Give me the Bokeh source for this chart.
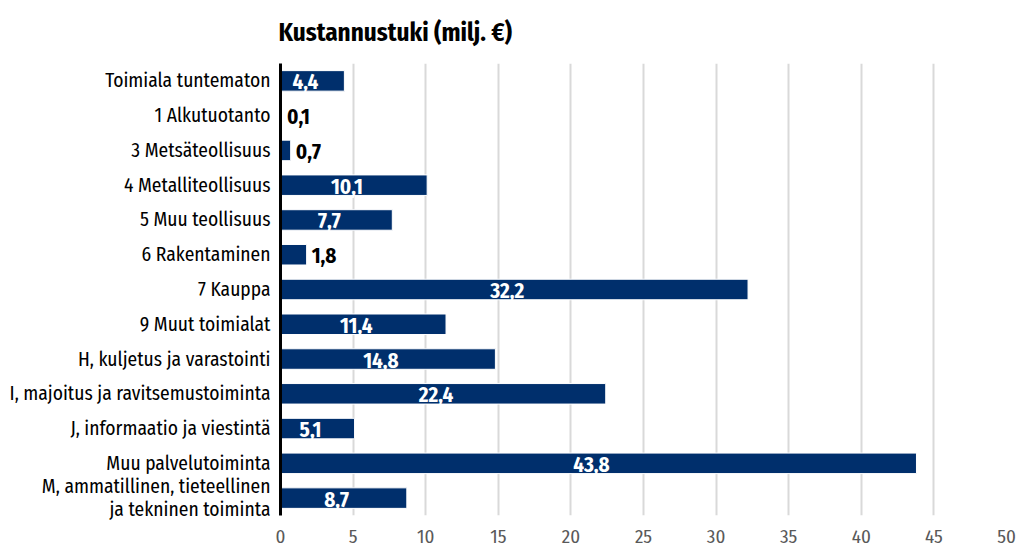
from bokeh.plotting import figure
from bokeh.models import FactorRange, Range1d, FixedTicker, ColumnDataSource
from bokeh.embed import file_html
from bokeh.resources import INLINE
from bokeh.core.properties import value

categories = [
    "Toimiala tuntematon",
    "1 Alkutuotanto",
    "3 Metsäteollisuus",
    "4 Metalliteollisuus",
    "5 Muu teollisuus",
    "6 Rakentaminen",
    "7 Kauppa",
    "9 Muut toimialat",
    "H, kuljetus ja varastointi",
    "I, majoitus ja ravitsemustoiminta",
    "J, informaatio ja viestintä",
    "Muu palvelutoiminta",
    "M, ammatillinen, tieteellinen\nja tekninen toiminta",
]
values = [4.4, 0.1, 0.7, 10.1, 7.7, 1.8, 32.2, 11.4, 14.8, 22.4, 5.1, 43.8, 8.7]
x_ticks = [0, 5, 10, 15, 20, 25, 30, 35, 40, 45, 50]
title_text = "Kustannustuki (milj. €)"

FONT = "Fira Sans Condensed"
BAR = "#002f6c"

labels = [f"{v:.1f}".replace(".", ",") for v in values]
inside = [v >= 3 for v in values]

src = ColumnDataSource(dict(cat=categories, val=values, lab=labels))
src_in = ColumnDataSource(dict(
    cat=[c for c, i in zip(categories, inside) if i],
    x=[v / 2 for v, i in zip(values, inside) if i],
    lab=[l for l, i in zip(labels, inside) if i],
))
src_out = ColumnDataSource(dict(
    cat=[c for c, i in zip(categories, inside) if not i],
    x=[v for v, i in zip(values, inside) if not i],
    lab=[l for l, i in zip(labels, inside) if not i],
))

p = figure(
    width=1019, height=552,
    y_range=FactorRange(factors=list(reversed(categories))),
    x_range=Range1d(0, 50),
    output_backend="svg", toolbar_location=None,
    min_border_left=280, min_border_right=13, min_border_top=59, min_border_bottom=37,
)
p.outline_line_color = None
p.background_fill_color = "white"
p.border_fill_color = "white"

p.title.text = title_text
p.title.text_font = FONT
p.title.text_font_size = "25px"
p.title.text_font_style = "bold"
p.title.align = "left"
p.title.offset = -2
p.title.standoff = 31
p.title.text_color = "black"

p.hbar(y="cat", right="val", left=0, height=0.59, source=src,
       fill_color=BAR, line_color="white", line_width=1)

p.text(x="x", y="cat", text="lab", source=src_in, text_color="white",
       text_font=value(FONT), text_font_size="21px", text_font_style="bold",
       text_align="center", text_baseline="middle", x_offset=-7, y_offset=1)
p.text(x="x", y="cat", text="lab", source=src_out, text_color="black",
       text_font=value(FONT), text_font_size="21px", text_font_style="bold",
       text_align="left", text_baseline="middle", x_offset=5, y_offset=1)

p.xaxis.ticker = FixedTicker(ticks=x_ticks)
p.xaxis.axis_line_color = None
p.xaxis.major_tick_line_color = None
p.xaxis.minor_tick_line_color = None
p.xaxis.major_tick_out = 0
p.xaxis.major_tick_in = 0
p.xaxis.minor_tick_out = 0
p.xaxis.major_label_text_font = FONT
p.xaxis.major_label_text_font_size = "19px"
p.xaxis.major_label_text_color = "#595959"
p.xaxis.major_label_standoff = 14

p.yaxis.axis_line_color = "black"
p.yaxis.axis_line_width = 3
p.yaxis.major_tick_line_color = None
p.yaxis.minor_tick_line_color = None
p.yaxis.major_tick_out = 0
p.yaxis.major_tick_in = 0
p.yaxis.minor_tick_out = 0
p.yaxis.major_label_text_font = FONT
p.yaxis.major_label_text_font_size = "19.5px"
p.yaxis.major_label_text_color = "black"
p.yaxis.major_label_text_line_height = 1.0
p.yaxis.major_label_standoff = 10

p.xgrid.grid_line_color = "#d9d9d9"
p.xgrid.grid_line_width = 2
p.ygrid.grid_line_color = None

open("out.html", "w").write(file_html(p, INLINE))
